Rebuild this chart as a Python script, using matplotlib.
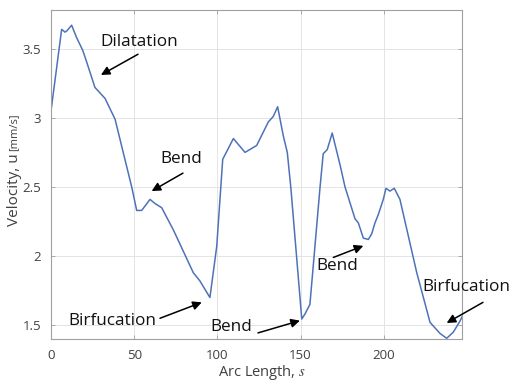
import matplotlib
matplotlib.use("Agg")
import matplotlib.pyplot as plt

arc_length = [0, 6.4, 8.4, 9.6, 12.4, 15.4, 19.0, 21.0, 26.4, 32.5, 38.5, 48.5, 51.5, 54.5,
              59.5, 62.5, 66.5, 73.5, 85.5, 89.5, 95.5, 99.6, 103.2, 109.6, 116.6, 123.6,
              130.6, 133.6, 136.2, 139.6, 142.0, 144.1, 150.7, 152.6, 155.6, 161.7, 163.6,
              166.0, 169.0, 173.7, 176.7, 182.7, 184.7, 187.7, 190.7, 192.7, 194.7, 196.7,
              199.7, 201.3, 203.7, 206.3, 209.7, 219.8, 227.8, 233.8, 237.8, 241.8, 245.8, 247.0]
velocity = [3.05, 3.64, 3.62, 3.63, 3.67, 3.58, 3.49, 3.42, 3.22, 3.14, 2.99, 2.50, 2.33, 2.33,
            2.41, 2.38, 2.35, 2.19, 1.88, 1.82, 1.70, 2.07, 2.70, 2.85, 2.75, 2.80,
            2.97, 3.01, 3.08, 2.87, 2.75, 2.50, 1.545, 1.58, 1.65, 2.50, 2.74,
            2.77, 2.89, 2.66, 2.50, 2.27, 2.24, 2.13, 2.12, 2.16, 2.24, 2.30,
            2.41, 2.49, 2.47, 2.49, 2.41, 1.88, 1.52, 1.44, 1.405, 1.45, 1.53, 1.56]
x_ticks = [0, 50, 100, 150, 200]
y_ticks = [1.5, 2, 2.5, 3, 3.5]
y_tick_labels = ["1.5", "2", "2.5", "3", "3.5"]

plt.rcParams['font.family'] = ['Open Sans', 'DejaVu Sans']
plt.rcParams['mathtext.fontset'] = 'stix'

W, H = 512, 380
fig = plt.figure(figsize=(W / 100, H / 100), dpi=100)
ax = fig.add_axes([51 / W, 1 - 339 / H, (462 - 51) / W, (339 - 10) / H])

ax.plot(arc_length, velocity, color='#4e72b8', lw=1.1)
ax.set_xlim(0, 247)
ax.set_ylim(1.4, 3.78)
ax.set_xticks(x_ticks)
ax.set_yticks(y_ticks)
ax.set_yticklabels(y_tick_labels)
ax.grid(True, color='#e4e4e4', lw=0.7)
ax.set_axisbelow(True)
for s in ax.spines.values():
    s.set_color('#a0a0a0')
    s.set_linewidth(0.8)
ax.tick_params(direction='in', length=3, width=0.6, color='#a0a0a0',
               labelsize=9.5, labelcolor='#404040', top=True, right=True, pad=7)

ann_fs = 12.3
arrow = dict(arrowstyle='-|>', color='black', lw=1.1, mutation_scale=13, shrinkA=0, shrinkB=0)

def label(text, tx, ty, start, tip):
    ax.text(tx, ty, text, ha='left', va='center', fontsize=ann_fs, color='#111111', clip_on=False)
    ax.annotate('', xy=tip, xytext=start, arrowprops=arrow, annotation_clip=False)

label('Dilatation', 29.4, 3.55, (52.3, 3.46), (30.0, 3.31))
label('Bend', 65.5, 2.70, (79.3, 2.60), (60.5, 2.47))
label('Birfucation', 10.2, 1.532, (65.5, 1.55), (90.6, 1.665))
label('Bend', 95.6, 1.487, (124.4, 1.444), (149.6, 1.533))
label('Bend', 159.7, 1.925, (169.7, 1.99), (187.7, 2.074))
label('Birfucation', 223.0, 1.773, (259.6, 1.665), (237.8, 1.516))

fig.text(15 / W, 1 - 190 / H, 'Velocity, u', rotation=90, ha='center', va='center',
         fontsize=11, color='#404040')
fig.text(14 / W, 1 - 132 / H, '[mm/s]', rotation=90, ha='center', va='center',
         fontsize=8, color='#404040')
fig.text(262 / W, 1 - 372 / H, 'Arc Length, $s$', ha='center', va='center',
         fontsize=10.5, color='#404040')

fig.savefig('out.png', dpi=100)
